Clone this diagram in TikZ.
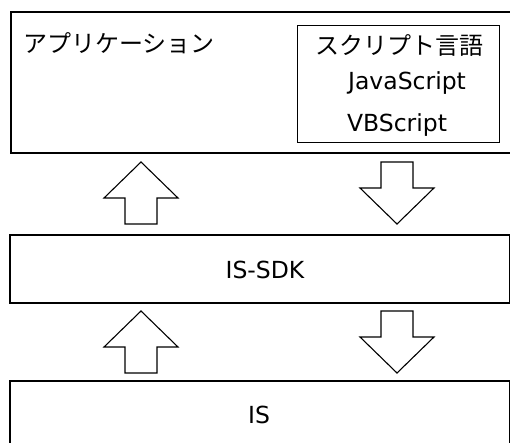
\documentclass[tikz,border=0pt]{standalone}
\usepackage{fontspec}
\setmainfont{DejaVu Sans}
\newfontfamily\jpfont{Noto Sans CJK JP}
\usetikzlibrary{positioning}

\tikzset{
  layer/.style={draw, line width=1.6pt, minimum height=#1, anchor=north west, inner sep=0pt},
  inbox/.style={draw, line width=1.2pt, anchor=north west, inner sep=0pt, minimum width=202pt, minimum height=117pt},
  lbl/.style={inner sep=0pt, font=\fontsize{23.5}{27}\selectfont},
  jplbl/.style={inner sep=0pt, font=\jpfont\fontsize{24}{28}\selectfont},
  blk/.style={draw, line width=1.1pt, line join=miter, fill=white},
  uparr/.pic={\draw[blk] (0,0) -- (37,36) -- (16,36) -- (16,62) -- (-16,62) -- (-16,36) -- (-37,36) -- cycle;},
  downarr/.pic={\draw[blk] (-16,0) -- (16,0) -- (16,26) -- (37,26) -- (0,62) -- (-37,26) -- (-16,26) -- cycle;}
}

\begin{document}
\begin{tikzpicture}[x=1pt,y=-1pt]
\useasboundingbox (0,0) rectangle (510,443);
\clip (0,0) rectangle (510,443);

% layers
\node[layer=141pt, minimum width=502pt] (app) at (10,11) {};
\node[layer=68pt, minimum width=500pt] (sdk) at (9,234) {};
\node[layer=80pt, minimum width=500pt] (is) at (9,380) {};
\node[inbox] (script) at (297,25) {};

% texts
\node[jplbl, anchor=west] (applbl) at (23,43) {アプリケーション};
\node[jplbl] (scriptlbl) at (399,45) {スクリプト言語};
\node[lbl] (js) at (407,83) {JavaScript};
\node[lbl] (vbs) at (397,125) {VBScript};
\node[lbl] (sdklbl) at (265,270) {IS-SDK};
\node[lbl] (islbl) at (259,415) {IS};

% arrows
\pic at (141,162) {uparr};
\pic at (397,162) {downarr};
\pic at (141,311) {uparr};
\pic at (397,311) {downarr};
\end{tikzpicture}
\end{document}
